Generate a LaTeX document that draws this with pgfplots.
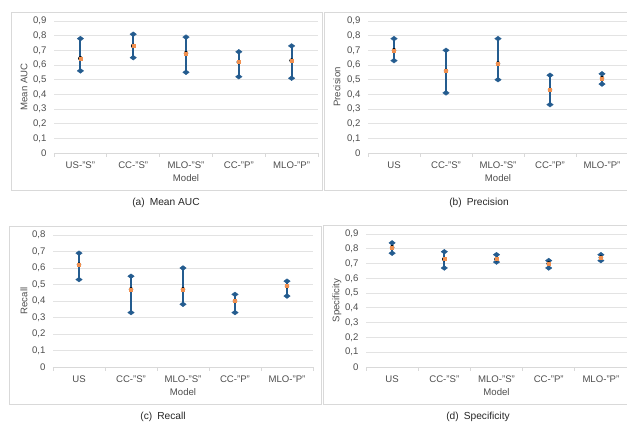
\documentclass[border=0pt]{standalone}
\usepackage{pgfplots}
\usepackage{pgfplotstable}
\pgfplotsset{compat=1.18}
\usepackage{fontspec}
\setmainfont{Liberation Sans}
\definecolor{ebblue}{HTML}{245C8F}
\definecolor{meanor}{HTML}{ED7D31}
\definecolor{gridc}{HTML}{E3E3E3}
\definecolor{axisc}{HTML}{D9D9D9}
\definecolor{framec}{HTML}{D9D9D9}
\definecolor{tickc}{HTML}{4D4D4D}

\pgfplotstableread{
x lo hi mean
0 0.56 0.78 0.645
1 0.65 0.81 0.73
2 0.55 0.79 0.68
3 0.52 0.69 0.62
4 0.51 0.73 0.63
}\tabA
\pgfplotstableread{
x lo hi mean
0 0.63 0.78 0.70
1 0.41 0.70 0.56
2 0.50 0.78 0.61
3 0.33 0.53 0.43
4 0.47 0.54 0.51
}\tabB
\pgfplotstableread{
x lo hi mean
0 0.53 0.69 0.62
1 0.33 0.55 0.47
2 0.38 0.60 0.47
3 0.33 0.44 0.40
4 0.43 0.52 0.49
}\tabC
\pgfplotstableread{
x lo hi mean
0 0.77 0.84 0.81
1 0.67 0.78 0.73
2 0.71 0.76 0.73
3 0.67 0.72 0.70
4 0.72 0.76 0.74
}\tabD

\pgfplotsset{
  panel/.style={
    scale only axis,
    xmin=-0.5, xmax=4.5, ymin=0,
    axis x line*=bottom, axis y line*=left,
    y axis line style={draw=none},
    x axis line style={draw=axisc, line width=0.8pt},
    ymajorgrids, major grid style={draw=gridc, line width=0.8pt},
    xtick={0,...,4},
    minor xtick={-0.5,0.5,...,4.5},
    major tick length=0pt, minor tick length=4pt, tick align=outside,
    major x tick style={draw=none},
    minor x tick style={draw=axisc, line width=0.8pt},
    ytick style={draw=none},
    tick label style={font=\fontsize{9.6}{11}\selectfont, text=tickc},
    yticklabel style={xshift=-4pt, /pgf/number format/fixed, /pgf/number format/precision=1, /pgf/number format/use comma, /pgf/number format/assume math mode=true},
    xticklabel style={yshift=-5.5pt},
    label style={font=\fontsize{9.6}{11}\selectfont, text=tickc},
    xlabel style={at={(axis description cs:0.5,0)}, anchor=center, yshift=-25.5pt},
    ylabel style={at={(axis description cs:0,0.5)}, anchor=center, yshift=30pt},
    xlabel={Model},
    clip=false,
  },
  ebar/.style={only marks, mark=none, forget plot,
    error bars/.cd, y dir=both, y explicit,
    error bar style={line width=2pt, draw=ebblue},
    error mark=diamond*,
    error mark options={ebblue, fill=ebblue, mark size=3.2pt, line width=0.4pt, rotate=0}},
  emean/.style={only marks, mark=square*, mark size=1.5pt, mark options={draw=meanor!85!white, fill=meanor!85!white}},
}
\newcommand{\ebplot}[1]{%
  \addplot[ebar] table[x=x, y=mean, y error plus expr=\thisrow{hi}-\thisrow{mean}, y error minus expr=\thisrow{mean}-\thisrow{lo}] {#1};
  \addplot[emean] table[x=x, y=mean] {#1};
}

\begin{document}
\begin{tikzpicture}
\useasboundingbox (0,0) rectangle (627pt,423pt);
\clip (0,0) rectangle (627pt,423pt);
% frames
\draw[framec, line width=0.8pt] (11pt,233pt) rectangle (322pt,411pt);
\draw[framec, line width=0.8pt] (324pt,233pt) rectangle (640pt,411pt);
\draw[framec, line width=0.8pt] (9pt,19pt) rectangle (321pt,197pt);
\draw[framec, line width=0.8pt] (323pt,19pt) rectangle (640pt,198pt);

% (a)
\begin{axis}[panel, at={(54pt,270pt)}, anchor=south west, width=264pt, height=132pt,
  ymax=0.9, ytick={0,0.1,...,0.9}, ylabel={Mean AUC},
  xticklabels={US-"S", CC-"S", MLO-"S", CC-"P", MLO-"P"}]
\ebplot{\tabA}
\end{axis}
% (b)
\begin{axis}[panel, at={(368pt,270pt)}, anchor=south west, width=260pt, height=132pt,
  ymax=0.9, ytick={0,0.1,...,0.9}, ylabel={Precision}, ylabel style={yshift=1pt},
  xticklabels={US, CC-"S", MLO-"S", CC-"P", MLO-"P"}]
\ebplot{\tabB}
\end{axis}
% (c)
\begin{axis}[panel, at={(53pt,56pt)}, anchor=south west, width=260pt, height=132pt,
  ymax=0.8, ytick={0,0.1,...,0.8}, ylabel={Recall}, ylabel style={yshift=-1pt},
  xticklabels={US, CC-"S", MLO-"S", CC-"P", MLO-"P"}]
\ebplot{\tabC}
\end{axis}
% (d)
\begin{axis}[panel, at={(366pt,56pt)}, anchor=south west, width=261pt, height=133pt,
  ymax=0.9, ytick={0,0.1,...,0.9}, ylabel={Specificity}, ylabel style={yshift=-1pt},
  xticklabels={US, CC-"S", MLO-"S", CC-"P", MLO-"P"}]
\ebplot{\tabD}
\end{axis}

% captions
\node[font=\fontsize{10.2}{12}\selectfont, text=black!85] at (166pt,220pt) {(a)\hspace{5pt}Mean AUC};
\node[font=\fontsize{10.2}{12}\selectfont, text=black!85] at (479pt,220pt) {(b)\hspace{5pt}Precision};
\node[font=\fontsize{10.2}{12}\selectfont, text=black!85] at (163pt,6pt) {(c)\hspace{5pt}Recall};
\node[font=\fontsize{10.2}{12}\selectfont, text=black!85] at (478pt,6pt) {(d)\hspace{5pt}Specificity};
\end{tikzpicture}
\end{document}
